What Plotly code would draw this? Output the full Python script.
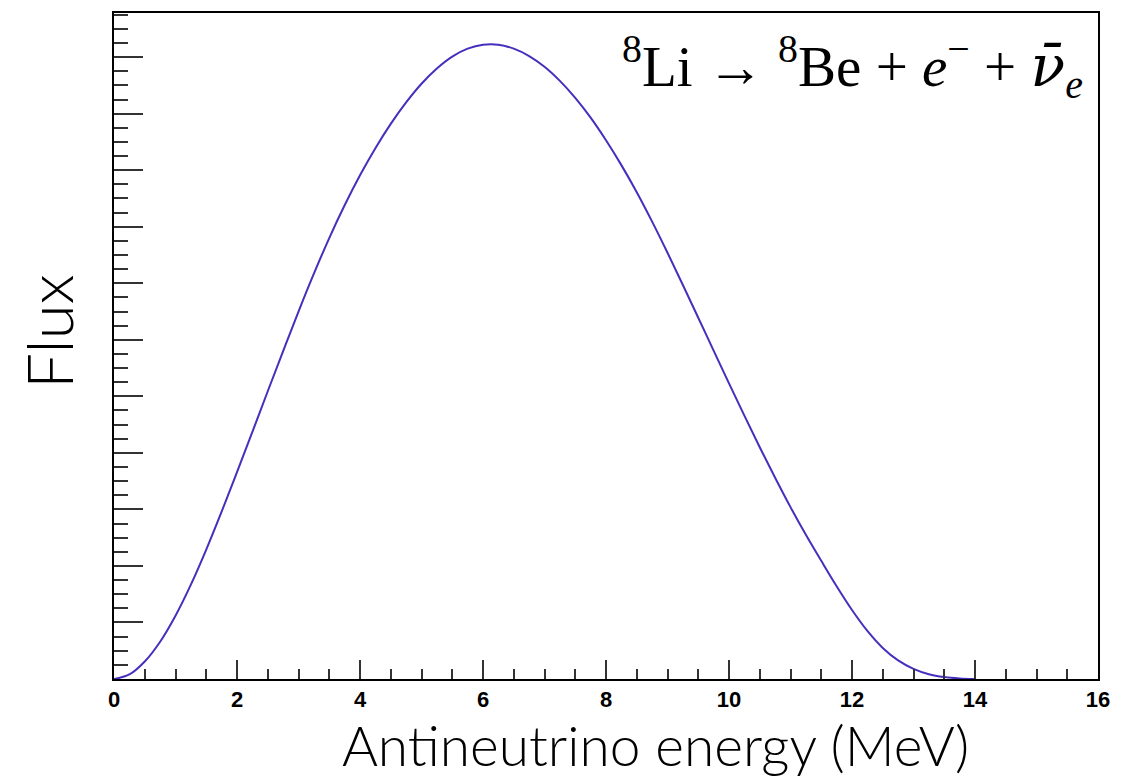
import plotly.graph_objects as go

# antineutrino spectrum of 8Li (arbitrary flux units)
energy = [0, 0.25, 0.5, 0.75, 1.0, 1.25, 1.5, 1.75, 2.0, 2.25, 2.5, 2.75,
          3.0, 3.25, 3.5, 3.75, 4.0, 4.25, 4.5, 4.75, 5.0, 5.25, 5.5, 5.75,
          6.0, 6.25, 6.5, 6.75, 7.0, 7.25, 7.5, 7.75, 8.0, 8.25, 8.5, 8.75,
          9.0, 9.25, 9.5, 9.75, 10.0, 10.25, 10.5, 10.75, 11.0, 11.25, 11.5,
          11.75, 12.0, 12.25, 12.5, 12.75, 13.0, 13.25, 13.5, 13.75, 14.0]
flux = [0, 0.08, 0.31, 0.66, 1.12, 1.67, 2.29, 2.96, 3.66, 4.37, 5.09, 5.80,
        6.50, 7.17, 7.80, 8.38, 8.91, 9.39, 9.82, 10.20, 10.53, 10.80, 11.01, 11.15,
        11.22, 11.22, 11.15, 11.02, 10.83, 10.58, 10.28, 9.93, 9.53, 9.09, 8.61, 8.09,
        7.54, 6.97, 6.39, 5.81, 5.23, 4.66, 4.10, 3.56, 3.04, 2.55, 2.09,
        1.64, 1.22, 0.85, 0.55, 0.33, 0.18, 0.085, 0.035, 0.01, 0.0]

y_top = 1.05 * max(flux)

fig = go.Figure(
    go.Scatter(
        x=energy,
        y=flux,
        mode="lines",
        line=dict(color="#4430bd", width=2, shape="spline", smoothing=1),
        hoverinfo="skip",
    )
)

tick_style = dict(ticks="inside", tickwidth=1.5, tickcolor="#333333")

fig.update_xaxes(
    range=[0, 16], tick0=0, dtick=2, ticklen=19, **tick_style,
    minor=dict(dtick=0.5, ticks="inside", ticklen=10, tickwidth=1.5, tickcolor="#333333"),
    showline=True, linecolor="black", linewidth=2, mirror=True,
    showgrid=False, zeroline=False,
    tickfont=dict(family="Arial", size=22, color="black", weight="bold"),
)
fig.update_yaxes(
    range=[0, y_top], tick0=0, dtick=1, ticklen=29, **tick_style,
    minor=dict(dtick=0.25, ticks="inside", ticklen=14, tickwidth=1.5, tickcolor="#333333"),
    showline=True, linecolor="black", linewidth=2, mirror=True,
    showgrid=False, zeroline=False, showticklabels=False,
)

# axis titles
fig.add_annotation(
    text="Antineutrino energy (MeV)", xref="paper", yref="paper",
    x=0.55, y=-0.0991, yanchor="middle", xanchor="center", showarrow=False,
    font=dict(family="Lato, Open Sans, sans-serif", size=55, color="black", weight=300),
)
fig.add_annotation(
    text="Flux", xref="paper", yref="paper", textangle=-90,
    x=-0.067, y=0.521, yanchor="middle", xanchor="center", showarrow=False,
    font=dict(family="Lato, Open Sans, sans-serif", size=64, color="black", weight=300),
)

# decay label
fig.add_annotation(
    text=("<sup>8</sup>Li → <sup>8</sup>Be + <i>e</i><sup>−</sup> + "
          "<span style='font-family:\"DejaVu Serif\"'><i>ν\u0304</i></span><sub><i>e</i></sub>"),
    xref="paper", yref="paper", x=0.987, y=0.919, xanchor="right", yanchor="middle",
    showarrow=False,
    font=dict(family="Liberation Serif, serif", size=57, color="black"),
)

fig.update_layout(
    width=1143, height=782,
    margin=dict(l=114, r=45, t=13, b=103),
    plot_bgcolor="white", paper_bgcolor="white",
    showlegend=False,
)

fig.write_html(
    "out.html",
    config={"displayModeBar": False},
    post_script="document.body.style.margin='0';",
)
